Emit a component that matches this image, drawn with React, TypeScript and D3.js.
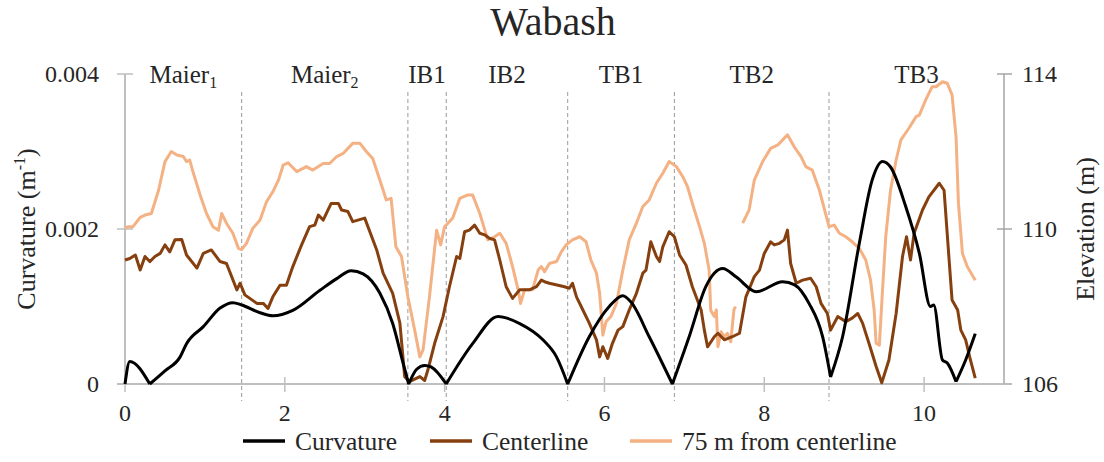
import * as d3 from 'd3';

// Wabash — curvature and elevation along the reach

const W = 1104;
const H = 462;
const FONT = '"Liberation Serif", "Times New Roman", serif';

const COLORS = {
  curvature: '#000000',
  center: '#86400f',
  offset: '#f4b183',
  axis: '#bfbfbf',
  axisRight: '#a6a6a6',
  divider: '#9a9a9a',
  text: '#262626',
};

const xTicks = [0, 2, 4, 6, 8, 10];
const curvTicks = [0, 0.002, 0.004];
const elevTicks = [106, 110, 114];

const sectionNames = ['Maier', 'Maier', 'IB1', 'IB2', 'TB1', 'TB2', 'TB3'];
const sectionSubs = ['1', '2', '', '', '', '', ''];
const sectionBounds = [0, 1.46, 3.54, 4.02, 5.54, 6.875, 8.81, 11];

const legendLabels = ['Curvature', 'Centerline', '75 m from centerline'];

// [distance, curvature (1/m)]
const curvature: [number, number][] = [
  [0, 0], [0.06, 0.00029], [0.31, 0], [0.5, 0.00017], [0.69, 0.00035], [0.77, 0.00052],
  [0.98, 0.00074], [1.19, 0.00098], [1.35, 0.00105], [1.46, 0.00102], [1.69, 0.00092],
  [1.85, 0.00088], [2.1, 0.00095], [2.44, 0.00121], [2.65, 0.00136], [2.83, 0.00146],
  [2.98, 0.00142], [3.19, 0.00117], [3.35, 0.00078], [3.48, 0.00027], [3.55, 0],
  [3.65, 0.00019], [3.75, 0.00024], [3.83, 0.00022], [4.02, 0], [4.35, 0.00052],
  [4.67, 0.00087], [4.94, 0.00078], [5.23, 0.00057], [5.4, 0.00035], [5.54, 0],
  [5.81, 0.00061], [6.06, 0.001], [6.23, 0.00114], [6.33, 0.00106], [6.56, 0.00061],
  [6.85, 0], [7.06, 0.00061], [7.27, 0.00126], [7.48, 0.00149], [7.65, 0.00138],
  [7.9, 0.00119], [8.23, 0.00132], [8.38, 0.00128], [8.56, 0.00104], [8.73, 0.00061],
  [8.83, 0.00009], [8.98, 0.00061], [9.19, 0.00182], [9.35, 0.00263], [9.48, 0.00287],
  [9.58, 0.0028], [9.77, 0.00229], [9.94, 0.00169], [10.08, 0.001], [10.12, 0.00102],
  [10.23, 0.00031], [10.29, 0.00027], [10.4, 0.00003], [10.52, 0.00031], [10.64, 0.00065],
];

// [distance, elevation (m)]
const centerline: [number, number][] = [
  [0, 109.2], [0.06, 109.24], [0.13, 109.33], [0.19, 108.94], [0.25, 109.29], [0.31, 109.16],
  [0.375, 109.29], [0.44, 109.37], [0.5, 109.59], [0.56, 109.41], [0.625, 109.72],
  [0.71, 109.73], [0.77, 109.33], [0.9, 108.99], [0.98, 109.37], [1.08, 109.46],
  [1.19, 109.16], [1.27, 109.11], [1.4, 108.43], [1.44, 108.6], [1.5, 108.3],
  [1.65, 108.08], [1.73, 108.08], [1.79, 107.95], [1.85, 108.25], [1.94, 108.55],
  [2.02, 108.55], [2.1, 109.03], [2.21, 109.59], [2.31, 110.06], [2.375, 110.1],
  [2.42, 110.36], [2.48, 110.23], [2.58, 110.66], [2.67, 110.66], [2.71, 110.49],
  [2.79, 110.45], [2.85, 110.19], [3.0, 110.28], [3.15, 109.46], [3.23, 108.86],
  [3.35, 108.34], [3.44, 107.57], [3.5, 106.19], [3.56, 106.06], [3.69, 106.19],
  [3.75, 106.09], [3.79, 106.36], [3.875, 107.05], [3.98, 107.74], [4.06, 108.51],
  [4.15, 109.29], [4.19, 109.24], [4.25, 109.93], [4.31, 109.97], [4.375, 110.1],
  [4.44, 109.89], [4.5, 109.85], [4.56, 109.76], [4.625, 109.72], [4.69, 109.2],
  [4.77, 108.51], [4.85, 108.21], [4.94, 108.43], [5.06, 108.43], [5.15, 108.51],
  [5.21, 108.68], [5.25, 108.64], [5.31, 108.6], [5.42, 108.55], [5.5, 108.51],
  [5.56, 108.47], [5.6, 108.6], [5.65, 108.25], [5.73, 107.91], [5.81, 107.57],
  [5.9, 107.14], [5.94, 106.7], [5.98, 106.96], [6.04, 106.66], [6.1, 107.05],
  [6.17, 107.39], [6.23, 107.48], [6.31, 107.91], [6.4, 108.34], [6.48, 108.86],
  [6.52, 108.94], [6.58, 109.67], [6.65, 109.29], [6.69, 109.16], [6.73, 109.54],
  [6.81, 109.93], [6.875, 109.8], [6.94, 109.33], [7.02, 109.07], [7.1, 108.51],
  [7.21, 107.91], [7.25, 107.39], [7.29, 106.96], [7.375, 107.22], [7.42, 107.31],
  [7.5, 107.14], [7.6, 107.22], [7.69, 107.31], [7.77, 108.25], [7.875, 108.77],
  [7.94, 108.94], [8.0, 109.37], [8.08, 109.67], [8.125, 109.59], [8.19, 109.63],
  [8.25, 109.72], [8.29, 109.97], [8.33, 109.11], [8.4, 108.6], [8.48, 108.68],
  [8.58, 108.73], [8.65, 108.51], [8.71, 108.08], [8.79, 107.82], [8.83, 107.39],
  [8.92, 107.74], [9.02, 107.61], [9.1, 107.7], [9.17, 107.82], [9.23, 107.57],
  [9.31, 107.05], [9.4, 106.45], [9.47, 106.03], [9.56, 106.62], [9.65, 107.82],
  [9.73, 109.29], [9.78, 109.8], [9.83, 109.2], [9.875, 109.89], [9.98, 110.49],
  [10.06, 110.83], [10.19, 111.18], [10.25, 111.0], [10.31, 109.29], [10.35, 108.17],
  [10.42, 107.91], [10.46, 107.39], [10.52, 107.14], [10.58, 106.62], [10.64, 106.15],
];

// [distance, elevation (m)], null = no data
const offsetLine: [number, number | null][] = [
  [0, 110.02], [0.04, 110.06], [0.1, 110.06], [0.19, 110.3], [0.25, 110.36], [0.33, 110.4],
  [0.42, 111.0], [0.5, 111.74], [0.58, 112.0], [0.65, 111.91], [0.73, 111.87], [0.77, 111.74],
  [0.81, 111.78], [0.85, 111.48], [0.94, 110.88], [1.02, 110.4], [1.1, 110.06], [1.17, 109.97],
  [1.21, 110.4], [1.27, 110.15], [1.35, 109.89], [1.42, 109.5], [1.46, 109.47], [1.52, 109.63],
  [1.6, 110.02], [1.69, 110.23], [1.77, 110.7], [1.85, 110.96], [1.92, 111.26], [1.98, 111.65],
  [2.04, 111.71], [2.15, 111.48], [2.27, 111.61], [2.35, 111.52], [2.48, 111.69], [2.56, 111.69],
  [2.65, 111.87], [2.73, 111.95], [2.79, 112.08], [2.85, 112.21], [2.94, 112.21], [3.02, 112.0],
  [3.1, 111.82], [3.19, 111.26], [3.27, 110.75], [3.33, 110.79], [3.39, 109.54], [3.46, 109.29],
  [3.54, 108.25], [3.625, 107.39], [3.69, 106.7], [3.73, 106.88], [3.81, 108.25], [3.9, 109.97],
  [3.95, 109.59], [4.0, 110.06], [4.1, 110.28], [4.19, 110.79], [4.29, 110.88], [4.35, 110.88],
  [4.44, 110.4], [4.54, 109.72], [4.625, 109.8], [4.69, 109.89], [4.77, 109.63], [4.85, 109.03],
  [4.92, 108.43], [4.95, 108.08], [5.0, 108.43], [5.1, 108.43], [5.17, 108.94], [5.21, 109.03],
  [5.25, 108.9], [5.31, 109.11], [5.4, 109.16], [5.46, 109.41], [5.52, 109.59], [5.6, 109.72],
  [5.69, 109.8], [5.77, 109.67], [5.83, 109.2], [5.9, 108.86], [5.94, 108.34], [5.98, 107.26],
  [6.02, 107.61], [6.08, 107.74], [6.15, 108.08], [6.23, 108.94], [6.31, 109.72], [6.4, 110.15],
  [6.48, 110.58], [6.56, 110.75], [6.65, 111.18], [6.73, 111.44], [6.81, 111.74], [6.9, 111.61],
  [6.98, 111.35], [7.04, 111.09], [7.1, 110.66], [7.19, 110.06], [7.25, 109.63], [7.31, 108.94],
  [7.33, 107.9], [7.375, 107.74], [7.4, 107.91], [7.42, 106.96], [7.46, 107.35], [7.5, 107.22],
  [7.54, 107.31], [7.58, 107.09], [7.62, 107.91], [7.64, 108.0], [7.68, null],
  [7.73, 110.15], [7.81, 110.49], [7.875, 111.26], [7.98, 111.74], [8.08, 112.08], [8.17, 112.17],
  [8.23, 112.3], [8.29, 112.43], [8.375, 112.12], [8.46, 111.87], [8.52, 111.61], [8.6, 111.52],
  [8.69, 111.0], [8.81, 110.06], [8.875, 110.1], [8.94, 109.89], [9.02, 109.8], [9.1, 109.67],
  [9.19, 109.5], [9.27, 109.2], [9.33, 108.68], [9.375, 107.91], [9.4, 107.05], [9.44, 107.0],
  [9.48, 108.43], [9.52, 109.8], [9.58, 111.0], [9.65, 111.78], [9.71, 112.3], [9.81, 112.6],
  [9.9, 112.9], [9.94, 112.94], [10.02, 113.33], [10.1, 113.67], [10.15, 113.67], [10.23, 113.8],
  [10.29, 113.76], [10.35, 113.46], [10.4, 112.38], [10.43, 110.66], [10.48, 109.37],
  [10.54, 109.03], [10.64, 108.68],
];

// split the curvature trace at its near-zero minima so each arc can be smoothed
// while the V-shaped inflection points stay sharp
function splitArcs(pts: [number, number][]) {
  const arcs: [number, number][][] = [];
  let cur: [number, number][] = [];
  pts.forEach((p, i) => {
    cur.push(p);
    if (i > 0 && i < pts.length - 1 && p[1] <= 0.0001) {
      arcs.push(cur);
      cur = [p];
    }
  });
  if (cur.length > 1) arcs.push(cur);
  return arcs;
}

export default function App() {
  const margin = { top: 74, right: 100, bottom: 78, left: 125 };
  const x0 = margin.left;
  const x1 = W - margin.right;
  const y0 = H - margin.bottom;
  const y1 = margin.top;

  const x = d3.scaleLinear().domain([0, 11]).range([x0, x1]);
  const yC = d3.scaleLinear().domain([0, 0.004]).range([y0, y1]);
  const yE = d3.scaleLinear().domain([106, 114]).range([y0, y1]);

  const arcLine = d3.line<[number, number]>()
    .x(d => x(d[0]))
    .y(d => yC(d[1]))
    .curve(d3.curveMonotoneX);
  const curvPath = splitArcs(curvature).map(a => arcLine(a) || '').join('');

  const centerPath = d3.line<[number, number]>()
    .x(d => x(d[0]))
    .y(d => yE(d[1]))(centerline) || '';

  const offsetPath = d3.line<[number, number | null]>()
    .defined(d => d[1] != null)
    .x(d => x(d[0]))
    .y(d => yE(d[1] as number))(offsetLine) || '';

  const dividers = sectionBounds.slice(1, -1);
  const legendColors = [COLORS.curvature, COLORS.center, COLORS.offset];
  const legendX = [243, 430, 630];
  const yMid = (y0 + y1) / 2;

  return (
    <div style={{ position: 'fixed', left: 0, top: 0 }}>
      <svg width={W} height={H} style={{ display: 'block', background: '#fff' }}
        fontFamily={FONT}>
        {/* title */}
        <text x={553} y={35} textAnchor="middle" fontSize={40} fill={COLORS.text}>Wabash</text>

        {/* section dividers */}
        {dividers.map((d, i) => (
          <line key={'dv' + i} x1={x(d)} x2={x(d)} y1={92} y2={401}
            stroke={COLORS.divider} strokeWidth={1} strokeDasharray="4,3" />
        ))}

        {/* section names */}
        {sectionNames.map((n, i) => (
          <text key={'sn' + i} x={x((sectionBounds[i] + sectionBounds[i + 1]) / 2)} y={83}
            textAnchor="middle" fontSize={25} fill={COLORS.text}>
            {n}
            {sectionSubs[i] && <tspan dy={5} fontSize={16}>{sectionSubs[i]}</tspan>}
          </text>
        ))}

        {/* left axis */}
        <line x1={x0} x2={x0} y1={y1} y2={y0} stroke={COLORS.axis} strokeWidth={2} />
        {curvTicks.map(t => (
          <g key={'ct' + t}>
            <line x1={x0 - 8} x2={x0 + 8} y1={yC(t)} y2={yC(t)} stroke={COLORS.axis} strokeWidth={1.5} />
            <text x={x0 - 26} y={yC(t) + 8} textAnchor="end" fontSize={24} fill={COLORS.text}>
              {t === 0 ? '0' : t.toFixed(3)}
            </text>
          </g>
        ))}

        {/* right axis */}
        <line x1={x1} x2={x1} y1={y1} y2={y0} stroke={COLORS.axisRight} strokeWidth={1.5} />
        {elevTicks.map(t => (
          <g key={'et' + t}>
            <line x1={x1 - 7} x2={x1 + 8} y1={yE(t)} y2={yE(t)} stroke={COLORS.axisRight} strokeWidth={1.5} />
            <text x={x1 + 18} y={yE(t) + 8} textAnchor="start" fontSize={24} fill={COLORS.text}>{t}</text>
          </g>
        ))}

        {/* bottom axis */}
        <line x1={x0 - 8} x2={x1} y1={y0} y2={y0} stroke={COLORS.axis} strokeWidth={2} />
        {xTicks.map(t => (
          <g key={'xt' + t}>
            <line x1={x(t)} x2={x(t)} y1={y0 - 7} y2={y0 + 8} stroke={COLORS.axis} strokeWidth={1.5} />
            <text x={x(t)} y={y0 + 37} textAnchor="middle" fontSize={24} fill={COLORS.text}>{t}</text>
          </g>
        ))}

        {/* axis titles */}
        <text transform={`translate(35,${yMid}) rotate(-90)`} textAnchor="middle"
          fontSize={26} fill={COLORS.text}>
          Curvature (m<tspan dy={-10} fontSize={16}>-1</tspan><tspan dy={10}>)</tspan>
        </text>
        <text transform={`translate(1094,${yMid}) rotate(-90)`} textAnchor="middle"
          fontSize={26} fill={COLORS.text}>
          Elevation (m)
        </text>

        {/* series */}
        <path d={offsetPath} fill="none" stroke={COLORS.offset} strokeWidth={3} strokeLinejoin="round" />
        <path d={centerPath} fill="none" stroke={COLORS.center} strokeWidth={3} strokeLinejoin="round" />
        <path d={curvPath} fill="none" stroke={COLORS.curvature} strokeWidth={3} strokeLinejoin="round" />

        {/* legend */}
        {legendLabels.map((l, i) => (
          <g key={'lg' + i}>
            <line x1={legendX[i]} x2={legendX[i] + 42} y1={441} y2={441}
              stroke={legendColors[i]} strokeWidth={3.5} />
            <text x={legendX[i] + 52} y={450} fontSize={25.5} fill={COLORS.text}>{l}</text>
          </g>
        ))}
      </svg>
    </div>
  );
}
